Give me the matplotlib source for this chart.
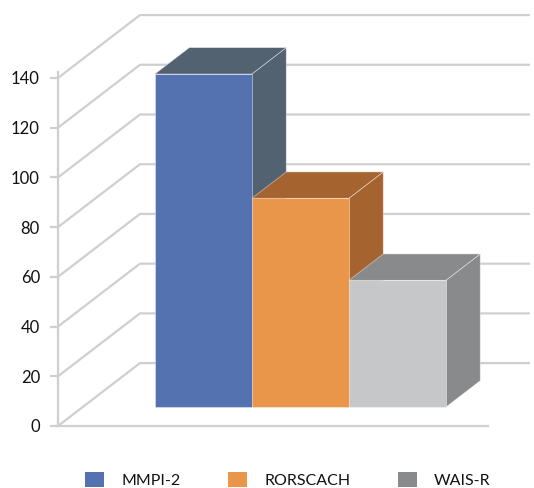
import numpy as np
import matplotlib
matplotlib.use("Agg")
from matplotlib import pyplot as plt
from matplotlib.patches import Polygon, Patch

plt.rcParams["font.family"] = ["Lato", "DejaVu Sans"]

categories = ["MMPI-2", "RORSCACH", "WAIS-R"]
values = [134, 84, 51]
y_ticks = [0, 20, 40, 60, 80, 100, 120, 140]

front_colours = ["#5472B0", "#E9954A", "#C6C7C9"]
shade_colours = ["#536271", "#A5632F", "#898A8B"]
legend_colours = ["#5472B0", "#E9954A", "#898A8B"]
grid_colour = "#CFCFCF"
text_colour = "#111111"

# oblique projection of the depth axis, in data units
WALL_DX = 0.845
WALL_DY = 25.3
BAR_FRONT = 0.30
BAR_BACK = 0.72
X_LEFT = -0.245
WALL_RIGHT = 4.62


def project(x, y, depth):
    return (x + depth * WALL_DX, y + depth * WALL_DY)


fig = plt.figure(figsize=(5.34, 4.88), dpi=100)
W, H = 534, 488
ax = fig.add_axes([58 / W, (H - 426) / H, 430 / W, 354 / H])
ax.set_xlim(X_LEFT, X_LEFT + 430 / 97)
ax.set_ylim(0, 354 / 2.486)

# left wall and back wall gridlines
for v in y_ticks:
    fx, fy = project(X_LEFT, v, 0)
    bx, by = project(X_LEFT, v, 1)
    ax.plot([fx, bx, WALL_RIGHT], [fy, by, by], color=grid_colour, lw=1.6,
            clip_on=False, solid_capstyle="butt", zorder=1)

# columns, left to right so later ones cover the side faces of earlier ones
for i, (v, fc, sc) in enumerate(zip(values, front_colours, shade_colours)):
    x0, x1 = i + 0.5, i + 1.5
    front = [project(x0, 0, BAR_FRONT), project(x1, 0, BAR_FRONT),
             project(x1, v, BAR_FRONT), project(x0, v, BAR_FRONT)]
    top = [project(x0, v, BAR_FRONT), project(x1, v, BAR_FRONT),
           project(x1, v, BAR_BACK), project(x0, v, BAR_BACK)]
    side = [project(x1, 0, BAR_FRONT), project(x1, 0, BAR_BACK),
            project(x1, v, BAR_BACK), project(x1, v, BAR_FRONT)]
    for pts, c in [(side, sc), (top, sc), (front, fc)]:
        ax.add_patch(Polygon(pts, closed=True, facecolor=c,
                             edgecolor=(1, 1, 1, 0.45), lw=0.6,
                             clip_on=False, zorder=3))

for name in ["top", "right"]:
    ax.spines[name].set_visible(False)
for name in ["left", "bottom"]:
    ax.spines[name].set_color(grid_colour)
    ax.spines[name].set_linewidth(1.6)
ax.set_xticks([])
ax.set_yticks(y_ticks)
ax.tick_params(axis="y", length=6, width=1.6, color=grid_colour,
               labelsize=12, labelcolor=text_colour, pad=7)
ax.patch.set_visible(False)

handles = [Patch(facecolor=c, edgecolor="none", label=n)
           for n, c in zip(categories, legend_colours)]
fig.legend(handles=handles, loc="center", bbox_to_anchor=(288 / W, 1 - 480 / H),
           ncol=3, frameon=False, fontsize=11.5, handlelength=1.15,
           handleheight=1.1, handletextpad=1.1, columnspacing=3.0,
           labelcolor=text_colour)

fig.savefig("out.png", dpi=100)
